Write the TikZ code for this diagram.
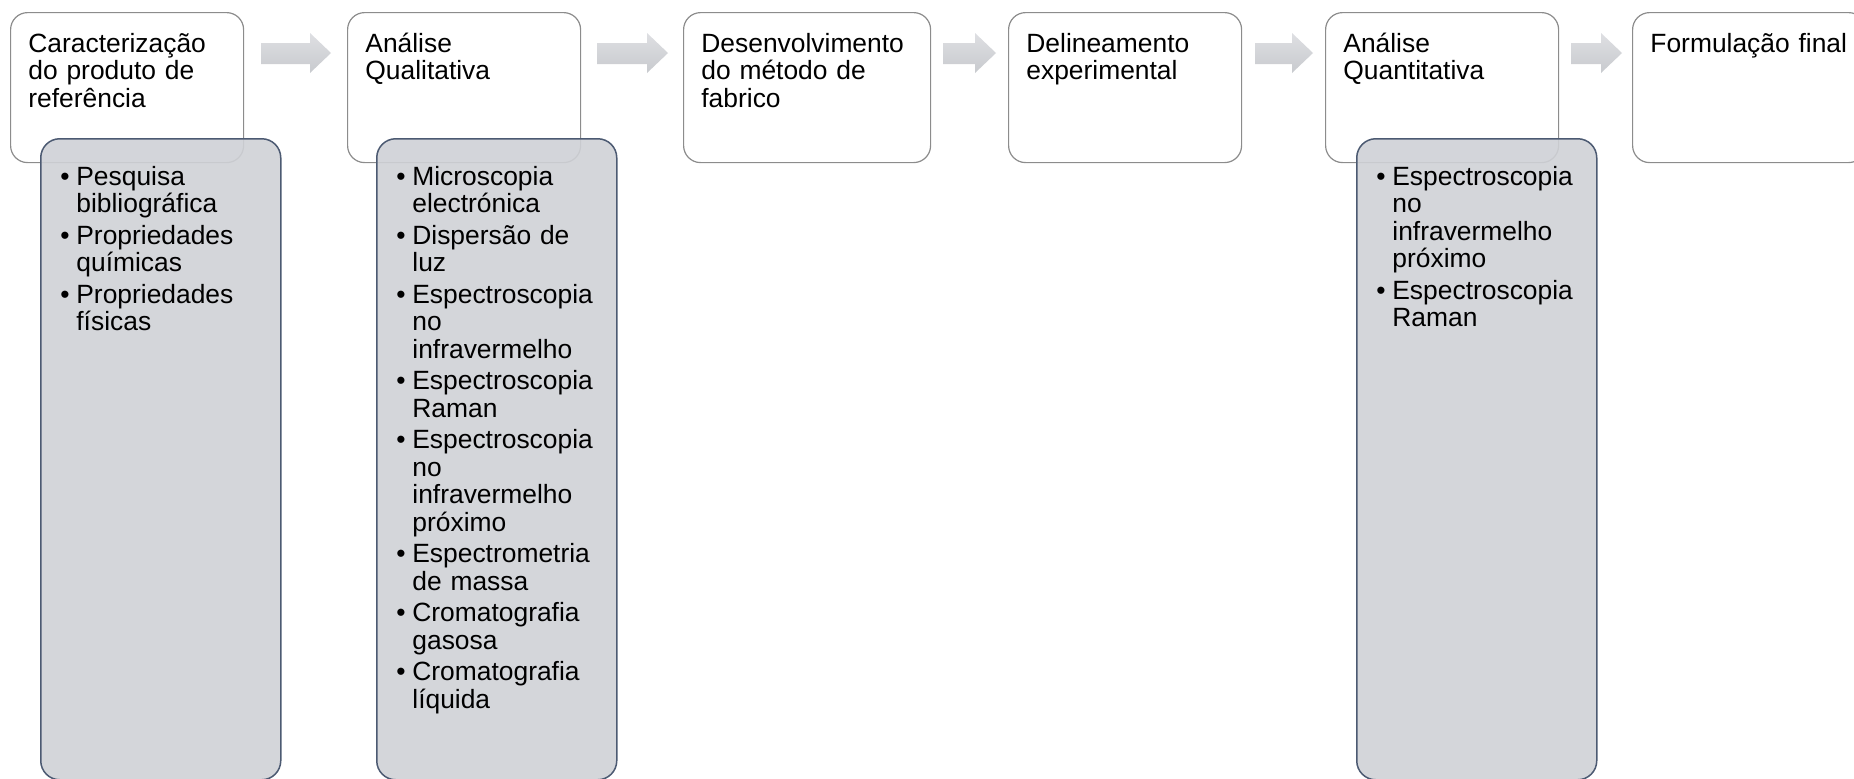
\documentclass[tikz,border=0pt]{standalone}
\usepackage{fontspec}
\setmainfont{Liberation Sans}
\definecolor{stepgray}{RGB}{140,140,140}
\definecolor{subfill}{RGB}{207,209,214}
\definecolor{subedge}{RGB}{76,90,114}
\definecolor{arrowlight}{RGB}{222,223,226}
\definecolor{arrowdark}{RGB}{200,202,206}
\newcommand{\stepbullet}{\makebox[8pt][l]{\textbullet}}
\newcommand{\stepindent}{\hspace*{8pt}}
\newcommand{\firstline}{\rule{0pt}{12.5pt}}

\begin{document}
\begin{tikzpicture}[x=0.5pt,y=-0.5pt,
  stepbox/.style={draw=stepgray, line width=0.6pt, fill=white, rounded corners=8.5pt,
    inner sep=0pt, anchor=north west, minimum height=75pt},
  subbox/.style={draw=subedge, line width=0.75pt, fill=subfill, fill opacity=0.9,
    rounded corners=9.5pt, inner sep=0pt, anchor=north west,
    minimum width=120pt, minimum height=320.5pt},
  steptext/.style={anchor=north west, inner sep=0pt, text width=112pt, align=left,
    font=\fontsize{13.2pt}{13.75pt}\selectfont},
  flowarrow/.style={top color=arrowlight, bottom color=arrowdark}]
\useasboundingbox (0,0) rectangle (1854,778);
\clip (0,0) rectangle (1854,778);

% main steps
\node[stepbox, minimum width=116.5pt] (caract) at (10,12) {};
\node[stepbox, minimum width=116.5pt] (qualit) at (347,12) {};
\node[stepbox, minimum width=123.5pt] (fabrico) at (683,12) {};
\node[stepbox, minimum width=116.5pt] (delin) at (1008,12) {};
\node[stepbox, minimum width=116.5pt] (quanti) at (1325,12) {};
\node[stepbox, minimum width=116.5pt] (formul) at (1632,12) {};

% block arrows
\shade[flowarrow] (261,43) -- (310,43) -- (310,33) -- (331,53) -- (310,73) -- (310,64) -- (261,64) -- cycle;
\shade[flowarrow] (597,43) -- (647,43) -- (647,33) -- (668,53) -- (647,73) -- (647,64) -- (597,64) -- cycle;
\shade[flowarrow] (943,43) -- (975,43) -- (975,33) -- (996,53) -- (975,73) -- (975,64) -- (943,64) -- cycle;
\shade[flowarrow] (1255,43) -- (1292,43) -- (1292,33) -- (1313,53) -- (1292,73) -- (1292,64) -- (1255,64) -- cycle;
\shade[flowarrow] (1571,43) -- (1601,43) -- (1601,33) -- (1622,53) -- (1601,73) -- (1601,64) -- (1571,64) -- cycle;

% sub-steps
\node[subbox] (subcaract) at (40,138) {};
\node[subbox] (subqualit) at (376,138) {};
\node[subbox] (subquanti) at (1356,138) {};

\node[steptext] (caracttext) at (28,27) {\firstline Caracterização\\do produto de\\referência};
\node[steptext] (qualittext) at (365,27) {\firstline Análise\\Qualitativa};
\node[steptext] (fabricotext) at (701,27) {\firstline Desenvolvimento\\do método de\\fabrico};
\node[steptext] (delintext) at (1026,27) {\firstline Delineamento\\experimental};
\node[steptext] (quantitext) at (1343,27) {\firstline Análise\\Quantitativa};
\node[steptext] (formultext) at (1650,27) {\firstline Formulação final};

\node[steptext] (caractlist) at (60,160) {\firstline\stepbullet Pesquisa\\\stepindent bibliográfica\\[2pt]%
  \stepbullet Propriedades\\\stepindent químicas\\[2pt]%
  \stepbullet Propriedades\\\stepindent físicas};
\node[steptext] (qualitlist) at (396,160) {\firstline\stepbullet Microscopia\\\stepindent electrónica\\[2pt]%
  \stepbullet Dispersão de\\\stepindent luz\\[2pt]%
  \stepbullet Espectroscopia\\\stepindent no\\\stepindent infravermelho\\[2pt]%
  \stepbullet Espectroscopia\\\stepindent Raman\\[2pt]%
  \stepbullet Espectroscopia\\\stepindent no\\\stepindent infravermelho\\\stepindent próximo\\[2pt]%
  \stepbullet Espectrometria\\\stepindent de massa\\[2pt]%
  \stepbullet Cromatografia\\\stepindent gasosa\\[2pt]%
  \stepbullet Cromatografia\\\stepindent líquida};
\node[steptext] (quantilist) at (1376,160) {\firstline\stepbullet Espectroscopia\\\stepindent no\\\stepindent infravermelho\\\stepindent próximo\\[2pt]%
  \stepbullet Espectroscopia\\\stepindent Raman};
\end{tikzpicture}
\end{document}
